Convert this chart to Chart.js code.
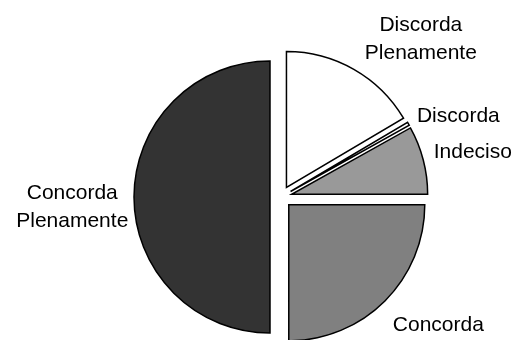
<!DOCTYPE html>
<html>
<head>
<meta charset="utf-8">
<script src="https://cdn.jsdelivr.net/npm/chart.js@4.4.1/dist/chart.umd.min.js"></script>
<style>
    html, body { margin: 0; padding: 0; background: #fff; }
    #wrap { width: 515px; height: 340px; }
</style>
</head>
<body>
<div id="wrap"><canvas id="pieChart"></canvas></div>
<script>
/* global Chart */

// categories and values (percent)
const CATEGORIES = [['Discorda', 'Plenamente'], ['Discorda'], ['Indeciso'], ['Concorda'], ['Concorda', 'Plenamente']];
const VALUES = [16.5, 0.4, 8.1, 25, 50];

const COLORS = ['#ffffff', '#ffffff', '#999999', '#808080', '#333333'];
const EXPLODE = 11;

// where each label sits: angle shift (deg) from the slice middle, distance from the centre
const LABEL_POS = [
    { shift: 11.8, dist: 211 },
    { shift: 5.3,  dist: 195 },
    { shift: 1.4,  dist: 197 },
    { shift: -5.8, dist: 203 },
    { shift: -2.9, dist: 209 },
];

const explodePlugin = {
    id: 'explode',
    afterDatasetUpdate(chart, args) {
        for (const arc of args.meta.data) {
            const mid = (arc.startAngle + arc.endAngle) / 2;
            arc.x += Math.cos(mid) * EXPLODE;
            arc.y += Math.sin(mid) * EXPLODE;
        }
    }
};

const labelPlugin = {
    id: 'outerLabels',
    afterDraw(chart) {
        const { ctx, chartArea } = chart;
        const cx = (chartArea.left + chartArea.right) / 2;
        const cy = (chartArea.top + chartArea.bottom) / 2;
        const arcs = chart.getDatasetMeta(0).data;
        ctx.save();
        ctx.font = '21px "Liberation Sans", Arial, sans-serif';
        ctx.fillStyle = '#000';
        ctx.textAlign = 'center';
        ctx.textBaseline = 'middle';
        const lineH = 28;
        arcs.forEach((arc, i) => {
            const p = LABEL_POS[i];
            const a = (arc.startAngle + arc.endAngle) / 2 + p.shift * Math.PI / 180;
            const x = cx + Math.cos(a) * p.dist;
            const y = cy + Math.sin(a) * p.dist;
            const lines = CATEGORIES[i];
            lines.forEach((t, k) => {
                ctx.fillText(t, x, y + (k - (lines.length - 1) / 2) * lineH);
            });
        });
        ctx.restore();
    }
};

new Chart(document.getElementById('pieChart'), {
    type: 'pie',
    data: {
        labels: CATEGORIES.map(l => l.join(' ')),
        datasets: [{
            data: VALUES,
            backgroundColor: COLORS,
            borderColor: '#000',
            borderWidth: 1.5,
            borderJoinStyle: 'miter'
        }]
    },
    options: {
        responsive: true,
        maintainAspectRatio: false,
        animation: false,
        events: [],
        radius: 136,
        layout: { padding: { left: 47, top: 54, right: 0, bottom: 0 } },
        plugins: {
            legend: { display: false },
            tooltip: { enabled: false }
        }
    },
    plugins: [explodePlugin, labelPlugin]
});
</script>
</body>
</html>
